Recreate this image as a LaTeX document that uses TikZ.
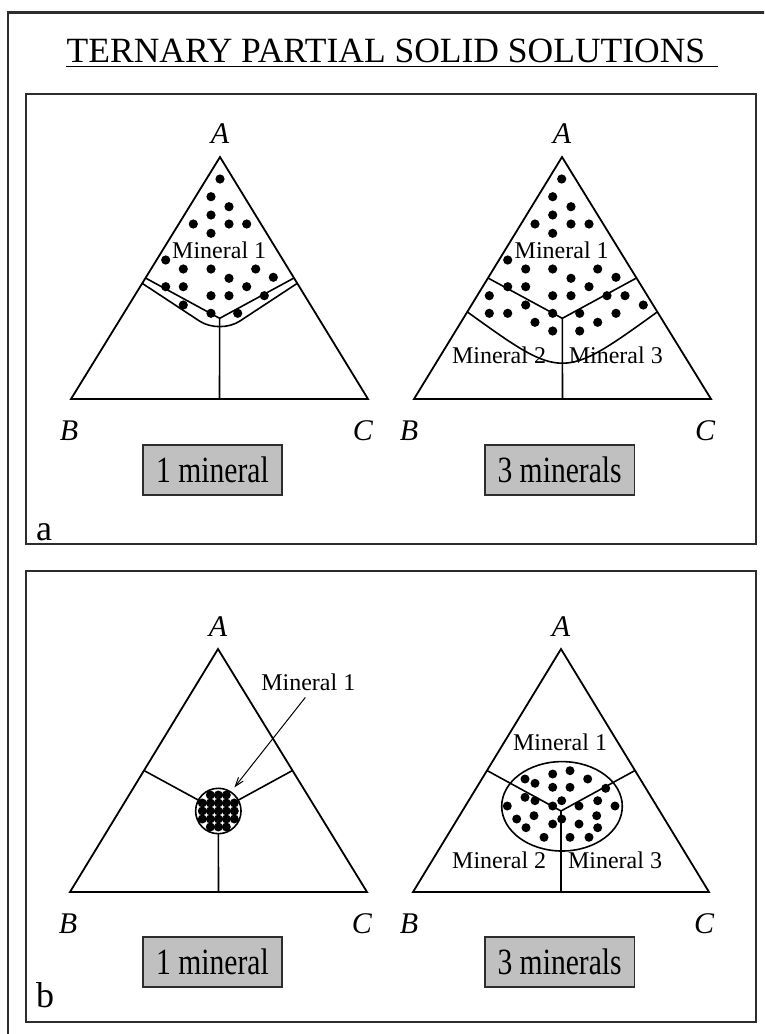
\documentclass[tikz,border=0pt]{standalone}
\usepackage{fontspec}
\setmainfont{Liberation Serif}
\usetikzlibrary{calc,arrows.meta}
\definecolor{boxgray}{RGB}{192,192,192}
\definecolor{framegray}{RGB}{45,45,45}

\begin{document}
\begin{tikzpicture}[x=1pt,y=-1pt,
    tri/.style={line width=1.8pt},
    bnd/.style={line width=1.6pt},
    panelframe/.style={draw=framegray, line width=2.2pt},
    vtx/.style={font=\fontsize{30}{33}\selectfont\itshape, anchor=base, inner sep=0pt},
    lbl/.style={font=\fontsize{24}{27}\selectfont, anchor=base, inner sep=1pt},
    tag/.style={font=\fontsize{36}{40}\selectfont, anchor=base west, inner sep=0pt},
    sumbox/.style={draw=framegray, line width=1.6pt, fill=boxgray, minimum height=50pt,
        font=\fontsize{37}{40}\selectfont, inner sep=0pt}]
        \useasboundingbox (0,0) rectangle (764,1034);
        \clip (0,0) rectangle (764,1034);

        % 外枠とタイトル
        \draw[draw=framegray, line width=2.5pt] (8,12.7) rectangle (790,1060);
        \node[font=\fontsize{35.5}{40}\selectfont, anchor=base, inner sep=0pt] (title) at (386,62.3) {TERNARY PARTIAL SOLID SOLUTIONS};
        \draw[line width=1.3pt] ($(title.base west)+(-1,4.4)$) -- ($(title.base east)+(13,4.4)$);

        % パネル a, b
        \draw[panelframe] (26,94) rectangle (755.7,544.3);
        \draw[panelframe] (26,571) rectangle (755.7,1022.3);
        \node[tag] (taga) at (36,540) {a};
        \node[tag] (tagb) at (36,1007.7) {b};

        % 三角形 a 左 (1 mineral)
        \coordinate (A) at (220,157);
        \coordinate (B) at (71,399);
        \coordinate (C) at (368,399);
        \coordinate (G) at (barycentric cs:A=1,B=1,C=1);
        \draw[tri] (A) -- (B) -- (C) -- cycle;
        \draw[bnd] ($(A)!0.5!(B)$) -- (G) -- ($(A)!0.5!(C)$);
        \draw[bnd] (G) -- ($(B)!0.5!(C)$);
        \draw[bnd, rounded corners=24pt] ($(A)!0.522!(B)$) -- ($(G)+(0,16)$) -- ($(A)!0.522!(C)$); %下の境界
        \node[vtx] at ($(A)+(0,-13.7)$) {A};
        \node[vtx] at ($(B)+(-2,41)$) {B};
        \node[vtx] at ($(C)+(-5,41)$) {C};
        \foreach \x/\y in {220/179, 211/196.7, 229/206.7, 211/215, 193.3/224, 229/224, 246.7/224,
            211/233.3, 165.7/260, 183.3/269, 211/269, 255.7/269, 229/278.3, 273.3/277.3,
            165.7/286.7, 183.3/286.7, 246.7/286.7, 211/295.7, 229/295.7, 264.3/295.7,
            183.3/305, 211/313.3, 237.7/313.3}
            \fill (\x,\y) circle (4.6);
        \node[lbl] (m1a) at (219.2,258.3) {Mineral 1};
        \node[sumbox, minimum width=138.6pt] (onea) at (212.5,470) {\scalebox{0.8}[1]{1 mineral}};

        % 三角形 a 右 (3 minerals)
        \coordinate (A) at (562,157);
        \coordinate (B) at (414,399);
        \coordinate (C) at (711,399);
        \coordinate (G) at (barycentric cs:A=1,B=1,C=1);
        \draw[tri] (A) -- (B) -- (C) -- cycle;
        \draw[bnd] ($(A)!0.5!(B)$) -- (G) -- ($(A)!0.5!(C)$);
        \draw[bnd] (G) -- ($(B)!0.5!(C)$);
        \draw[bnd] ($(A)!0.64!(B)$) .. controls ($(G)+(0,62)$) .. ($(A)!0.64!(C)$); %下の境界
        \node[vtx] at ($(A)+(0,-13.7)$) {A};
        \node[vtx] at ($(B)+(-5,41)$) {B};
        \node[vtx] at ($(C)+(-6,41)$) {C};
        \foreach \x/\y in {561.7/179, 552.7/196.7, 571/206.7, 552.7/215, 535/224, 571/224, 589/224,
            552.7/233.3, 507.7/260, 525.7/269, 552.7/269, 597.7/269, 571/278.3, 616/277.3,
            507.7/286.7, 525.7/286.7, 589/286.7, 489.3/295.7, 552.7/295.7, 571/295.7, 607/295.7,
            625/295.7, 489.3/313.3, 507.7/313.3, 525.7/305, 552.7/313.3, 579.7/313.3, 616/313.3,
            643.3/305, 535/322.3, 597.7/322.3, 552.7/331, 579.7/331}
            \fill (\x,\y) circle (4.6);
        \node[lbl] (m1a3) at (561.7,258.3) {Mineral 1};
        \node[lbl] (m2a3) at (499,363.3) {Mineral 2};
        \node[lbl] (m3a3) at (615.8,363.3) {Mineral 3};
        \node[sumbox, minimum width=149.8pt] (threea) at (559.6,470) {\scalebox{0.8}[1]{3 minerals}};

        % 三角形 b 左 (1 mineral)
        \coordinate (A) at (218,649);
        \coordinate (B) at (70,892);
        \coordinate (C) at (367,892);
        \coordinate (G) at (barycentric cs:A=1,B=1,C=1);
        \draw[tri] (A) -- (B) -- (C) -- cycle;
        \draw[bnd] ($(A)!0.5!(B)$) -- (G) -- ($(A)!0.5!(C)$);
        \draw[bnd] (G) -- ($(B)!0.5!(C)$);
        \fill[white] (G) circle (22.7);
        \foreach \dx/\dy in {0/0, -8/0, 8/0, -16/0, 16/0, 0/-8, 0/8, -8/-8, 8/-8, -8/8, 8/8,
            0/-16, 0/16, -8/-16, 8/-16, -8/16, 8/16, -16/-8, 16/-8, -16/8, 16/8}
            \fill ($(G)+(\dx,\dy)$) circle (4.5);
        \draw[bnd] (G) circle (22.7);
        \node[vtx] at ($(A)+(0,-12.3)$) {A};
        \node[vtx] at ($(B)+(-2,41)$) {B};
        \node[vtx] at ($(C)+(-5,41)$) {C};
        \node[lbl] (m1b) at (308.3,690) {Mineral 1};
        \coordinate (tip) at ($(G)+(16,-23.5)$);
        \draw[line width=1pt, -{Straight Barb[length=9pt,width=6pt]}] ($(m1b.south)+(-3,6)$) -- (tip);
        \node[sumbox, minimum width=138.6pt] (oneb) at (212.5,962) {\scalebox{0.8}[1]{1 mineral}};

        % 三角形 b 右 (3 minerals)
        \coordinate (A) at (561,649);
        \coordinate (B) at (413,892);
        \coordinate (C) at (709,892);
        \coordinate (G) at (barycentric cs:A=1,B=1,C=1);
        \draw[tri] (A) -- (B) -- (C) -- cycle;
        \draw[bnd] ($(A)!0.5!(B)$) -- (G) -- ($(A)!0.5!(C)$);
        \draw[bnd] (G) -- ($(B)!0.5!(C)$);
        \draw[bnd] (562,806.3) ellipse [x radius=60.3, y radius=44.7];
        \foreach \x/\y in {552.7/774, 570/770.7, 525/779, 535/783.3, 552.7/787.3, 570/787.3,
            587.7/779, 605.7/788.3, 525/797.3, 535/800.7, 552.7/806, 561.7/800.7, 579/806,
            597.7/800.7, 615/806, 507.3/806, 516.7/819, 534/815.7, 552.7/824, 561.7/819,
            579/824, 596.7/815.7, 597.7/827.7, 526/827.7, 544/837.3, 570/837.3, 589/837.3}
            \fill (\x,\y) circle (4.5);
        \node[vtx] at ($(A)+(0,-12.3)$) {A};
        \node[vtx] at ($(B)+(-4,41)$) {B};
        \node[vtx] at ($(C)+(-5,41)$) {C};
        \node[lbl] (m1b3) at (560,750.7) {Mineral 1};
        \node[lbl] (m2b3) at (499.2,868.3) {Mineral 2};
        \node[lbl] (m3b3) at (615,868.3) {Mineral 3};
        \node[sumbox, minimum width=149.8pt] (threeb) at (559.6,962) {\scalebox{0.8}[1]{3 minerals}};

\end{tikzpicture}
\end{document}
